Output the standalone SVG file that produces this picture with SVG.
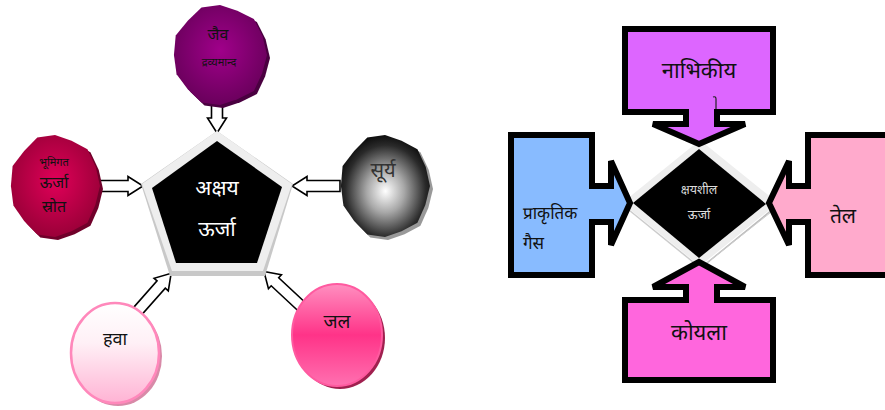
<svg xmlns="http://www.w3.org/2000/svg" width="885" height="410" viewBox="0 0 885 410">
<defs>
<path id="blob" d="M100,0 L89.6,37.2 L72.1,72.1 L36.8,88.7 L0,100 L-39.4,95.2 L-68.6,68.6 L-92.4,38.3 L-98,0 L-94.2,-39.1 L-68.6,-68.6 L-39.4,-95.2 L0,-100 L36.8,-88.7 L72.1,-72.1 L90.6,-37.5 Z"/>
<radialGradient id="gJaiv" cx="0.5" cy="0.45" r="0.55"><stop offset="0" stop-color="#a0008a"/><stop offset="1" stop-color="#6a005c"/></radialGradient>
<radialGradient id="gBhu" cx="0.5" cy="0.45" r="0.55"><stop offset="0" stop-color="#e00058"/><stop offset="1" stop-color="#9a0038"/></radialGradient>
<radialGradient id="gSun" cx="0.5" cy="0.55" r="0.6"><stop offset="0" stop-color="#ffffff"/><stop offset="0.35" stop-color="#a8a8a8"/><stop offset="0.75" stop-color="#2a2a2a"/><stop offset="1" stop-color="#000000"/></radialGradient>
<linearGradient id="gHawa" x1="0" y1="0" x2="0" y2="1"><stop offset="0" stop-color="#ffffff"/><stop offset="0.4" stop-color="#fff0f6"/><stop offset="1" stop-color="#ffb3d4"/></linearGradient>
<linearGradient id="gJal" x1="0" y1="0" x2="0" y2="1"><stop offset="0" stop-color="#ff8fc0"/><stop offset="0.5" stop-color="#ff3388"/><stop offset="1" stop-color="#ff70b0"/></linearGradient>
<style>
.arr{fill:#fff;stroke:#000;stroke-width:1.6;stroke-linejoin:miter}
.dv{font-family:"Noto Sans Devanagari","Noto Sans","DejaVu Sans",sans-serif;text-anchor:middle}
.st{text-anchor:start}
.blk{fill:#111}
.wht{fill:#fff}
.box{stroke:#000;stroke-width:6;stroke-linejoin:miter}
</style>
</defs>

<g id="connectors">
<path class="arr" transform="translate(217,103) rotate(90)" d="M0,-5.5 H15 V-9.5 L30,0 L15,9.5 V5.5 H0 Z"/>
<path class="arr" transform="translate(100,186)" d="M0,-5.5 H28 V-9.5 L43,0 L28,9.5 V5.5 H0 Z"/>
<path class="arr" transform="translate(340,186) rotate(180)" d="M0,-5.5 H33 V-9.5 L48,0 L33,9.5 V5.5 H0 Z"/>
<path class="arr" transform="translate(136,313) rotate(-48.5)" d="M0,-5.5 H38 V-9.5 L53,0 L38,9.5 V5.5 H0 Z"/>
<path class="arr" transform="translate(302,307) rotate(-137)" d="M0,-5.5 H37 V-9.5 L52,0 L37,9.5 V5.5 H0 Z"/>
</g>

<g id="akshay">
<polygon points="217,131 293,184 265,276 170,276 141,184" fill="#c8c8c8"/>
<polygon points="217,131 292,184 263,271 172,271 142,184" fill="#eeeeee"/>
<polygon points="217,141 282,187 257,263 176,263 152,188" fill="#000"/>
<text class="dv wht" x="217" y="195" font-size="21">अक्षय</text>
<text class="dv wht" x="217" y="236" font-size="21">ऊर्जा</text>
</g>

<g id="jaiv">
<use href="#blob" transform="translate(223,58) scale(0.47,0.5)" fill="#4a0040"/>
<use href="#blob" transform="translate(220,55) scale(0.47,0.5)" fill="url(#gJaiv)"/>
<text class="dv blk" x="218" y="40" font-size="16">जैव</text>
<text class="dv blk" x="219" y="66" font-size="11">द्रव्यमान्द</text>
</g>

<g id="bhumigat">
<use href="#blob" transform="translate(58,189) scale(0.45,0.51)" fill="#70002a"/>
<use href="#blob" transform="translate(55,186) scale(0.45,0.51)" fill="url(#gBhu)"/>
<text class="dv blk" x="54" y="166" font-size="11">भूमिगत</text>
<text class="dv blk" x="54" y="188" font-size="16">ऊर्जा</text>
<text class="dv blk" x="54" y="212" font-size="16">स्रोत</text>
</g>

<g id="surya">
<use href="#blob" transform="translate(388,189) scale(0.45,0.51)" fill="#999"/>
<use href="#blob" transform="translate(385,186) scale(0.45,0.51)" fill="url(#gSun)"/>
<text class="dv" x="383" y="177" font-size="20" fill="#333">सूर्य</text>
</g>

<g id="hawa">
<ellipse cx="118" cy="356" rx="44" ry="50" fill="#d88aa8"/>
<ellipse cx="115" cy="353" rx="44" ry="50" fill="url(#gHawa)" stroke="#ff88bb" stroke-width="2.5"/>
<text class="dv blk" x="115" y="345" font-size="18">हवा</text>
</g>

<g id="jal">
<ellipse cx="340" cy="338" rx="45" ry="51" fill="#a0204f"/>
<ellipse cx="337" cy="335" rx="45" ry="51" fill="url(#gJal)" stroke="#ff5aa0" stroke-width="2"/>
<text class="dv blk" x="337" y="328" font-size="19">जल</text>
</g>

<g id="kshayshil">
<polygon points="700,140 778,203 700,266 622,203" fill="#eeeeee"/>
<path d="M778,205 L702,267" stroke="#bbbbbb" stroke-width="1.5" fill="none"/>
<path d="M775,209 L703,266" stroke="#cccccc" stroke-width="1" fill="none"/>
<path d="M624,206 L698,266" stroke="#cccccc" stroke-width="1.5" fill="none"/>
<polygon points="699,149 766,204 699,258 633,203" fill="#000"/>
<text class="dv" x="699" y="194" font-size="12.5" fill="#dddddd">क्षयशील</text>
<text class="dv" x="699" y="219" font-size="12.5" fill="#dddddd">ऊर्जा</text>
</g>

<g id="nabhikiya">
<path class="box" fill="#dd66ff" d="M625,29 H773 V112 H717 V124 H745 L699,144 L653,124 H686 V112 H625 Z"/>
<text class="dv blk" x="699" y="78" font-size="22">नाभिकीय</text>
<path d="M716,109 V99 Q716,96 713,97" stroke="#222" stroke-width="1.2" fill="none"/>
</g>

<g id="prakritik">
<path class="box" fill="#88bbff" d="M511,135 H592 V186 H611 V161 L630,203 L611,245 V222 H592 V275 H511 Z"/>
<text class="dv blk st" x="523" y="219" font-size="17">प्राकृतिक</text>
<text class="dv blk st" x="523" y="249" font-size="17">गैस</text>
</g>

<g id="tel">
<path class="box" fill="#ffaacc" d="M890,135 H808 V186 H789 V161 L769,203 L789,245 V222 H808 V275 H890 Z"/>
<text class="dv blk" x="843" y="223" font-size="21">तेल</text>
</g>

<g id="koyla">
<path class="box" fill="#ff66dd" d="M625,380 H773 V300 H717 V287 H745 L699,262 L653,287 H686 V300 H625 Z"/>
<text class="dv blk" x="699" y="340" font-size="22">कोयला</text>
</g>
</svg>
